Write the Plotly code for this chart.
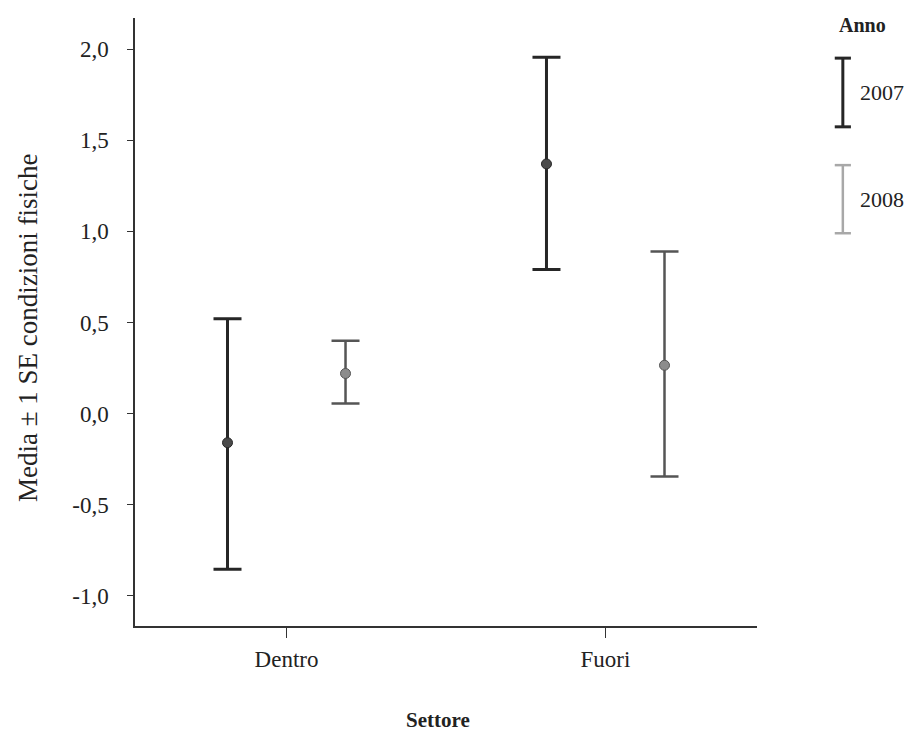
import plotly.graph_objects as go

categories = ["Dentro", "Fuori"]
years = ["2007", "2008"]
means_2007 = [-0.16, 1.37]
upper_2007 = [0.52, 1.955]
lower_2007 = [-0.855, 0.79]
means_2008 = [0.22, 0.265]
upper_2008 = [0.40, 0.89]
lower_2008 = [0.055, -0.345]
y_ticks = [-1.0, -0.5, 0.0, 0.5, 1.0, 1.5, 2.0]
y_tick_labels = ["-1,0", "-0,5", "0,0", "0,5", "1,0", "1,5", "2,0"]
x_title = "Settore"
y_title = "Media ± 1 SE condizioni fisiche"
legend_title = "Anno"

offset = 0.185
cat_pos = list(range(len(categories)))

series = [
    (means_2007, upper_2007, lower_2007, -offset, "#262626", "#4a4a4a", 3),
    (means_2008, upper_2008, lower_2008, offset, "#555555", "#8c8c8c", 2.5),
]

fig = go.Figure()
for (m, up, lo, off, lc, mc, lw), yr in zip(series, years):
    fig.add_trace(go.Scatter(
        x=[p + off for p in cat_pos], y=m, mode="markers", name=yr,
        marker=dict(size=10, color=mc, line=dict(color=lc, width=1)),
        error_y=dict(type="data", symmetric=False,
                     array=[u - v for u, v in zip(up, m)],
                     arrayminus=[v - l for v, l in zip(m, lo)],
                     color=lc, thickness=lw, width=14),
        showlegend=False,
    ))

font = "Liberation Serif"
fig.update_layout(
    width=905, height=723,
    margin=dict(l=127, r=156, t=10, b=105),
    plot_bgcolor="white", paper_bgcolor="white",
    font=dict(family=font, size=22, color="#222"),
    xaxis=dict(range=[-0.475, 1.475], tickvals=cat_pos, ticktext=categories,
               showline=True, linecolor="#333", linewidth=1.5, showgrid=False,
               zeroline=False, ticks="outside", ticklen=10, tickcolor="#333",
               tickfont=dict(size=23), ticklabelstandoff=2, automargin=False),
    yaxis=dict(range=[-1.166, 2.171], tickvals=y_ticks, ticktext=y_tick_labels,
               showline=True, linecolor="#333", linewidth=1.5, showgrid=False,
               zeroline=False, ticks="outside", ticklen=6, tickcolor="#333",
               tickfont=dict(size=23), ticklabelstandoff=14, automargin=False),
)

# axis titles
fig.add_annotation(x=-0.172, y=0.49, xref="paper", yref="paper", text=y_title,
                   textangle=-90, xanchor="center", yanchor="middle",
                   showarrow=False, font=dict(size=27))
fig.add_annotation(x=0.487, y=-0.155, xref="paper", yref="paper", text=f"<b>{x_title}</b>",
                   xanchor="center", yanchor="middle",
                   showarrow=False, font=dict(size=21))

# legend drawn manually (error-bar glyphs)
fig.add_annotation(x=1.169, y=0.9885, xref="paper", yref="paper", text=f"<b>{legend_title}</b>",
                   xanchor="center", yanchor="middle",
                   showarrow=False, font=dict(size=20))
leg = [("2007", 0.934, 0.821, "#262626", 3), ("2008", 0.758, 0.646, "#a8a8a8", 2.5)]
for lab, y0, y1, c, w in leg:
    fig.add_shape(type="line", xref="paper", yref="paper", x0=1.138, x1=1.138, y0=y0, y1=y1,
                  line=dict(color=c, width=w))
    for yy in (y0, y1):
        fig.add_shape(type="line", xref="paper", yref="paper", x0=1.125, x1=1.151, y0=yy, y1=yy,
                      line=dict(color=c, width=w))
    fig.add_annotation(x=1.163, y=(y0 + y1) / 2, xref="paper", yref="paper", text=lab,
                       xanchor="left", yanchor="middle", showarrow=False, font=dict(size=22))

fig.write_html("out.html")
